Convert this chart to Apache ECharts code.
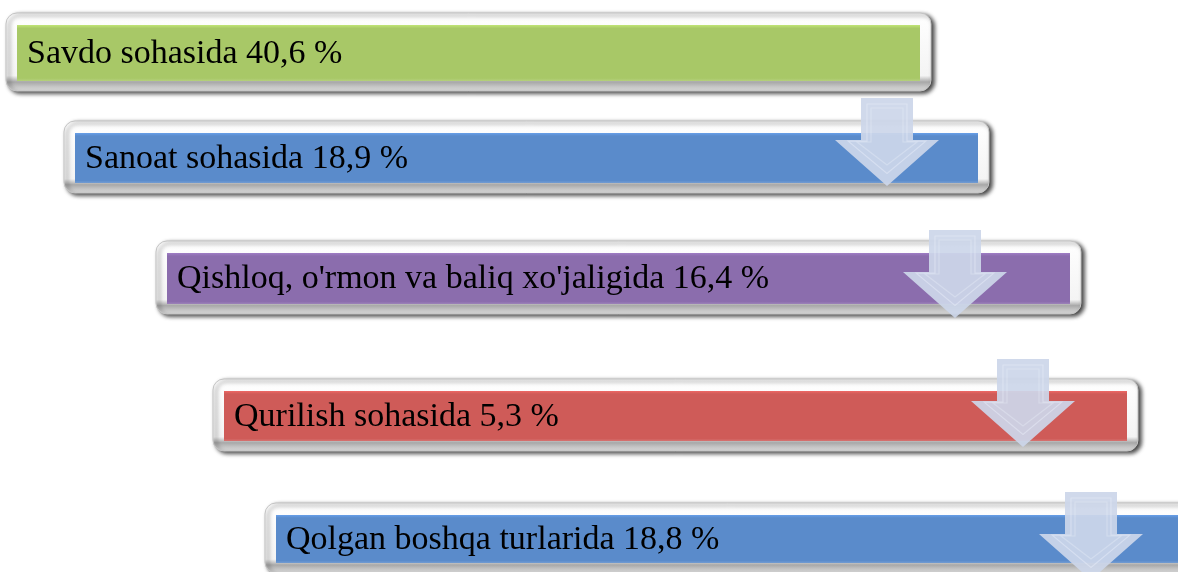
<!DOCTYPE html>
<html>
<head>
<meta charset="utf-8">
<script src="https://cdn.jsdelivr.net/npm/echarts@6/dist/echarts.min.js"></script>
<style>
html,body{margin:0;padding:0;background:#fff;}
#chart{width:1178px;height:572px;}
</style>
</head>
<body>
<div id="chart"></div>
<script>
// ---- data ----
const categories = ['Savdo sohasida', 'Sanoat sohasida', "Qishloq, o'rmon va baliq xo'jaligida", 'Qurilish sohasida', 'Qolgan boshqa turlarida'];
const shares = [40.6, 18.9, 16.4, 5.3, 18.8];

// ---- layout (diagram positions, not data) ----
const boxLeft = [17, 75, 167, 224, 276];
const boxTop = [25, 133, 253, 391, 515];
const boxHeight = [56, 50, 51, 50, 48];
const boxWidth = 903;
const arrowCenterX = [887, 955, 1023, 1091];
const arrowTop = [98, 230, 359, 492];

// ---- styles ----
const fills = ['#a8c867', '#5a8bcb', '#8b6dad', '#cf5b58', '#5a8bcb'];

function fmt(v) { return v.toFixed(1).replace('.', ',') + ' %'; }

const chart = echarts.init(document.getElementById('chart'), null, { renderer: 'canvas' });

function renderBox(params, api) {
  const i = api.value(0);
  const p0 = api.coord([boxLeft[i], boxTop[i]]);
  const p1 = api.coord([boxLeft[i] + boxWidth, boxTop[i] + boxHeight[i]]);
  const x = p0[0], y = p0[1], w = p1[0] - p0[0], h = p1[1] - p0[1];
  const pad = 11;
  return {
    type: 'group',
    children: [
      {
        type: 'rect',
        shape: { x: x - pad, y: y - pad - 1, width: w + 2 * pad, height: h + 2 * pad, r: 11 },
        style: {
          fill: new echarts.graphic.LinearGradient(0, 0, 0, 1, [
            { offset: 0, color: '#ffffff' },
            { offset: 0.8, color: '#f4f4f4' },
            { offset: 0.88, color: '#a8a8a8' },
            { offset: 1, color: '#e4e4e4' }
          ]),
          stroke: '#c4c4c4',
          lineWidth: 1,
          shadowBlur: 4,
          shadowColor: 'rgba(0,0,0,0.75)',
          shadowOffsetX: 3,
          shadowOffsetY: 2
        }
      },
      {
        type: 'rect',
        shape: { x: x, y: y, width: w, height: h },
        style: {
          fill: new echarts.graphic.LinearGradient(0, 0, 0, 1, [
            { offset: 0, color: echarts.color.lift(fills[i], -0.15) },
            { offset: 0.06, color: fills[i] },
            { offset: 0.95, color: fills[i] },
            { offset: 1, color: echarts.color.lift(fills[i], 0.15) }
          ])
        }
      },
      {
        type: 'text',
        x: x + 10,
        y: y + h / 2 + 1,
        style: {
          text: categories[i] + ' ' + fmt(shares[i]),
          fontFamily: 'Liberation Serif',
          fontSize: 34,
          fill: '#000',
          verticalAlign: 'middle',
          align: 'left'
        }
      }
    ]
  };
}

function arrowPoints(cx, top, inset) {
  const sw = 26 - inset, hw = 52 - inset * 2.2;
  const sh = 42 + inset * 0.2, tip = 88 - inset * 2.1;
  const t = top + inset;
  return [
    [cx - sw, t], [cx + sw, t], [cx + sw, top + sh], [cx + hw, top + sh],
    [cx, top + tip], [cx - hw, top + sh], [cx - sw, top + sh]
  ];
}

function renderArrow(params, api) {
  const i = api.value(0);
  const c = api.coord([arrowCenterX[i], arrowTop[i]]);
  const cx = c[0], top = c[1];
  return {
    type: 'group',
    children: [
      {
        type: 'polygon',
        shape: { points: arrowPoints(cx, top, 0) },
        style: { fill: 'rgba(204,214,233,0.93)' }
      },
      {
        type: 'polygon',
        shape: { points: arrowPoints(cx, top, 6) },
        style: { fill: 'none', stroke: 'rgba(235,240,250,0.45)', lineWidth: 1.2 }
      },
      {
        type: 'polygon',
        shape: { points: arrowPoints(cx, top, 10) },
        style: { fill: 'none', stroke: 'rgba(235,240,250,0.35)', lineWidth: 1.2 }
      }
    ]
  };
}

chart.setOption({
  animation: false,
  backgroundColor: '#ffffff',
  grid: { left: 0, right: 0, top: 0, bottom: 0 },
  xAxis: { type: 'value', min: 0, max: 1178, show: false },
  yAxis: { type: 'value', min: 0, max: 572, inverse: true, show: false },
  series: [
    {
      type: 'custom',
      name: 'boxes',
      renderItem: renderBox,
      data: categories.map((c, i) => [i]),
      clip: false,
      z: 1
    },
    {
      type: 'custom',
      name: 'arrows',
      renderItem: renderArrow,
      data: arrowCenterX.map((c, i) => [i]),
      clip: false,
      z: 2
    }
  ]
});
</script>
</body>
</html>
